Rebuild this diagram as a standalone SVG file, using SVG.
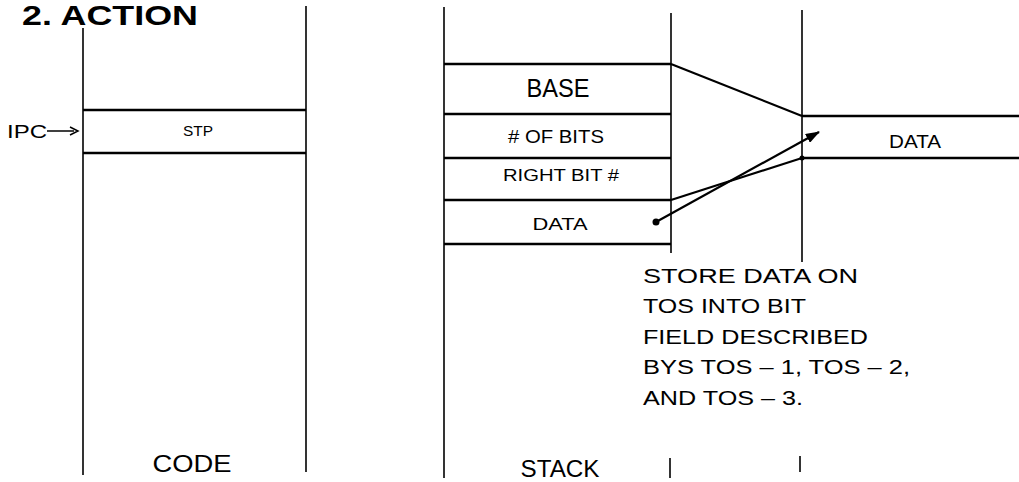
<svg xmlns="http://www.w3.org/2000/svg" width="1019" height="482" viewBox="0 0 1019 482">
<defs>
<style>
.v{stroke:#000;stroke-width:1.6;fill:none}
.h{stroke:#000;stroke-width:2.4;fill:none}
.c{stroke:#000;stroke-width:2.2;fill:none}
text{font-family:"Liberation Sans",Arial,sans-serif;fill:#000}
.m{text-anchor:middle}
</style>
<marker id="ah" viewBox="0 0 14 10" refX="13" refY="5" markerWidth="6.5" markerHeight="4.6" orient="auto" markerUnits="strokeWidth">
<path d="M0,0 L14,5 L0,10 z" fill="#000"/>
</marker>
</defs>
<rect width="1019" height="482" fill="#fff"/>
<text x="22" y="25" font-size="27" font-weight="bold" textLength="176" lengthAdjust="spacingAndGlyphs">2. ACTION</text>

<g id="code">
<line class="v" x1="83" y1="28" x2="83" y2="475"/>
<line class="v" x1="306" y1="6" x2="306" y2="472"/>
<text x="192" y="472" class="m" font-size="23" textLength="79" lengthAdjust="spacingAndGlyphs">CODE</text>
</g>
<g id="stp">
<line class="h" x1="83" y1="110" x2="306" y2="110"/>
<line class="h" x1="83" y1="153" x2="306" y2="153"/>
<text x="198" y="136" class="m" font-size="15" textLength="30" lengthAdjust="spacingAndGlyphs">STP</text>
</g>
<g id="ipc">
<text x="7" y="138" font-size="18" textLength="40" lengthAdjust="spacingAndGlyphs">IPC</text>
<line x1="47" y1="131" x2="74" y2="131" stroke="#000" stroke-width="1.5"/>
<path d="M70,127 L78,131 L70,135" fill="none" stroke="#000" stroke-width="1.5"/>
</g>

<g id="stack">
<line class="v" x1="444" y1="7" x2="444" y2="478"/>
<line class="v" x1="671" y1="13" x2="671" y2="253"/>
<line class="v" x1="670" y1="458" x2="670" y2="478"/>
<line class="h" x1="444" y1="244" x2="671" y2="244"/>
<text x="560" y="477" class="m" font-size="23" textLength="79" lengthAdjust="spacingAndGlyphs">STACK</text>
</g>
<g id="base">
<line class="h" x1="444" y1="64" x2="671" y2="64"/>
<text x="558" y="97" class="m" font-size="25" textLength="63" lengthAdjust="spacingAndGlyphs">BASE</text>
</g>
<g id="numbits">
<line class="h" x1="444" y1="114" x2="671" y2="114"/>
<text x="556" y="143" class="m" font-size="18" textLength="96" lengthAdjust="spacingAndGlyphs"># OF BITS</text>
</g>
<g id="rightbit">
<line class="h" x1="444" y1="158" x2="671" y2="158"/>
<text x="561" y="181" class="m" font-size="17" textLength="116" lengthAdjust="spacingAndGlyphs">RIGHT BIT #</text>
</g>
<g id="data">
<line class="h" x1="444" y1="200" x2="671" y2="200"/>
<text x="560" y="230" class="m" font-size="17" textLength="55" lengthAdjust="spacingAndGlyphs">DATA</text>
</g>

<g id="result">
<line class="v" x1="802" y1="10" x2="802" y2="262"/>
<line class="v" x1="800" y1="456" x2="800" y2="472"/>
<line class="h" x1="802" y1="116" x2="1019" y2="116"/>
<line class="h" x1="802" y1="158" x2="1019" y2="158"/>
<text x="915" y="148" class="m" font-size="19" textLength="52" lengthAdjust="spacingAndGlyphs">DATA</text>
</g>

<g id="connectors">
<line class="c" x1="671" y1="64" x2="802" y2="116"/>
<line class="c" x1="671" y1="200" x2="802" y2="158"/>
<circle cx="802" cy="158" r="2.5" fill="#000"/>
<circle cx="656" cy="222" r="3.5" fill="#000"/>
<line class="c" x1="656" y1="222" x2="819" y2="132" marker-end="url(#ah)"/>
</g>

<g id="note" font-size="20">
<text x="643" y="283" textLength="215" lengthAdjust="spacingAndGlyphs">STORE DATA ON</text>
<text x="643" y="313" textLength="163" lengthAdjust="spacingAndGlyphs">TOS INTO BIT</text>
<text x="643" y="344" textLength="225" lengthAdjust="spacingAndGlyphs">FIELD DESCRIBED</text>
<text x="643" y="374" textLength="267" lengthAdjust="spacingAndGlyphs">BYS TOS – 1, TOS – 2,</text>
<text x="643" y="405" textLength="160" lengthAdjust="spacingAndGlyphs">AND TOS – 3.</text>
</g>
</svg>
